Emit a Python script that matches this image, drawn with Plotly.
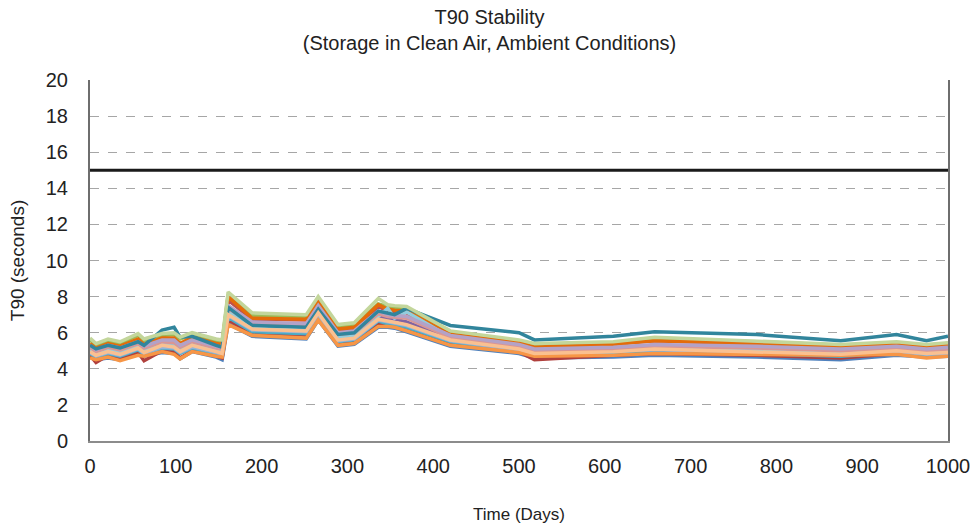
import plotly.graph_objects as go

days = [0, 7, 21, 35, 56, 63, 84, 98, 105, 119, 147, 154, 161, 189, 252, 266, 289, 308,
        336, 347, 355, 369, 420, 500, 518, 610, 658, 777, 875, 940, 975, 1000]

blue = [4.65,4.5,4.6,4.5,4.8,4.7,4.9,4.85,4.55,4.95,4.65,4.5,6.5,5.8,5.65,6.7,5.25,5.35,6.3,6.3,6.25,6.05,5.25,4.85,4.6,4.65,4.75,4.65,4.5,4.75,4.65,4.7]
dark_red = [4.75,4.35,4.75,4.55,4.9,4.45,5.0,4.95,4.6,5.0,4.7,4.6,6.7,5.95,5.8,6.85,5.4,5.5,6.5,6.45,6.4,6.25,5.4,4.95,4.5,4.75,4.85,4.75,4.6,4.85,4.7,4.75]
red = [5.2,4.9,5.15,5.0,5.4,5.1,5.5,5.5,5.2,5.5,5.2,5.1,7.8,6.75,6.7,7.5,6.1,6.2,7.45,7.2,7.15,7.1,5.9,5.5,5.35,5.4,5.55,5.4,5.25,5.4,5.3,5.4]
green = [5.6,5.3,5.55,5.4,5.85,5.55,5.85,5.9,5.65,5.9,5.55,5.5,8.1,6.95,6.9,7.85,6.35,6.45,7.6,7.45,7.4,7.35,6.0,5.55,5.35,5.45,5.65,5.5,5.3,5.45,5.3,5.4]
purple = [5.0,4.8,5.0,4.85,5.2,4.95,5.3,5.3,5.0,5.3,5.0,4.9,7.1,6.3,6.2,7.2,5.7,5.8,6.85,6.8,6.75,6.6,5.65,5.15,4.9,5.0,5.15,5.05,4.9,5.05,4.9,5.0]
aqua = [4.85,4.65,4.85,4.7,5.05,4.8,5.15,5.1,4.85,5.15,4.85,4.75,6.85,6.05,5.95,6.95,5.5,5.6,6.65,6.5,6.45,6.3,5.5,5.0,4.75,4.9,5.0,4.85,4.7,4.9,4.75,4.8]
orange = [4.6,4.5,4.65,4.45,4.75,4.7,4.95,4.8,4.55,4.95,4.7,4.65,6.45,5.85,5.7,6.7,5.3,5.4,6.35,6.35,6.3,6.1,5.3,4.9,4.7,4.75,4.85,4.8,4.75,4.8,4.6,4.7]
dark_orange = [5.4,5.15,5.4,5.25,5.65,5.35,5.7,5.7,5.4,5.75,5.4,5.35,8.0,6.8,6.75,7.7,6.2,6.3,7.55,7.3,7.25,7.2,5.9,5.45,5.2,5.35,5.55,5.4,5.2,5.35,5.2,5.3]
steel_blue = [4.9,4.7,4.9,4.75,5.1,4.85,5.2,5.15,4.9,5.2,4.9,4.8,6.95,6.15,6.05,7.0,5.55,5.65,6.7,6.6,6.55,6.4,5.55,5.05,4.8,4.95,5.05,4.9,4.75,4.95,4.8,4.85]
light_blue = [5.05,4.85,5.05,4.9,5.3,5.0,5.4,5.35,5.05,5.4,5.05,4.95,7.2,6.35,6.25,7.25,5.75,5.85,6.9,7.35,6.8,7.15,5.75,5.2,4.95,5.05,5.2,5.05,4.9,5.1,4.95,5.0]
pink = [5.2,4.95,5.2,5.05,5.4,5.15,5.5,5.45,5.2,5.5,5.15,5.1,7.35,6.5,6.4,7.4,5.9,6.0,7.05,6.9,6.85,6.8,5.75,5.25,5.0,5.1,5.25,5.15,5.0,5.15,5.0,5.1]
lavender = [5.3,5.05,5.3,5.15,5.5,5.25,5.6,5.6,5.3,5.6,5.25,5.2,7.5,6.6,6.5,7.5,6.0,6.1,7.2,7.0,6.95,6.9,5.85,5.35,5.1,5.2,5.35,5.25,5.1,5.25,5.1,5.2]
peach = [4.95,4.75,4.95,4.8,5.15,4.9,5.3,5.2,4.95,5.3,4.95,4.85,7.0,6.2,6.1,7.1,5.6,5.7,6.75,6.65,6.6,6.45,5.6,5.1,4.85,4.95,5.1,4.95,4.8,5.0,4.85,4.9]
teal = [5.3,5.1,5.3,5.15,5.5,5.3,6.15,6.3,5.75,5.8,5.3,5.2,7.4,6.4,6.3,7.3,5.9,6.0,7.2,7.1,7.0,7.35,6.4,6.0,5.6,5.8,6.05,5.9,5.55,5.9,5.55,5.8]
light_green = [5.7,5.4,5.65,5.5,5.95,5.65,5.95,6.0,5.75,6.0,5.65,5.6,8.25,7.1,7.0,8.0,6.45,6.55,7.9,7.55,7.5,7.45,6.1,5.6,5.4,5.5,5.75,5.55,5.35,5.5,5.35,5.45]

limit_days = [0, 1000]
limit_value = [15, 15]

series = [
    ("Sensor 1", blue, "#4F81BD"),
    ("Sensor 2", dark_red, "#B0403D"),
    ("Sensor 3", red, "#C0504D"),
    ("Sensor 4", green, "#9BBB59"),
    ("Sensor 5", purple, "#8064A2"),
    ("Sensor 6", aqua, "#4BACC6"),
    ("Sensor 7", steel_blue, "#95B3D7"),
    ("Sensor 8", dark_orange, "#E46C0A"),
    ("Sensor 9", light_blue, "#93CDDD"),
    ("Sensor 10", pink, "#D99694"),
    ("Sensor 11", lavender, "#B3A2C7"),
    ("Sensor 12", teal, "#31859C"),
    ("Sensor 13", orange, "#F79646"),
    ("Sensor 14", peach, "#FAC090"),
    ("Sensor 15", light_green, "#C3D69B"),
]

fig = go.Figure()
for name, vals, col in series:
    fig.add_trace(go.Scatter(x=days, y=vals, mode="lines", name=name,
                             line=dict(color=col, width=3.5)))
fig.add_trace(go.Scatter(x=limit_days, y=limit_value, mode="lines", name="Limit",
                         line=dict(color="#1a1a1a", width=3)))

fig.update_layout(
    width=979, height=529,
    margin=dict(l=90, r=31, t=80, b=88, autoexpand=False),
    paper_bgcolor="white", plot_bgcolor="white",
    showlegend=False,
    font=dict(family="Liberation Sans, Arial, sans-serif", color="#222"),
    title=dict(text="T90 Stability<br>(Storage in Clean Air, Ambient Conditions)",
               x=0.5, xref="container", xanchor="center",
               y=0.955, yref="container", yanchor="top",
               font=dict(size=20, color="#222")),
)
fig.update_xaxes(range=[0, 1000], tickvals=list(range(0, 1001, 100)),
                 showgrid=False, zeroline=False,
                 showline=True, linecolor="#8c8c8c", linewidth=2,
                 tickfont=dict(size=20, color="#222"), ticks="", ticklabelstandoff=6,
                 title=dict(text="Time (Days)", font=dict(size=17, color="#222"), standoff=32))
fig.update_yaxes(range=[0, 20], tickvals=list(range(0, 21, 2)),
                 showgrid=True, gridcolor="#a6a6a6", griddash="dash", gridwidth=1,
                 zeroline=False,
                 showline=True, linecolor="#6e6e6e", linewidth=2, mirror=True,
                 tickfont=dict(size=20, color="#222"), ticks="", ticklabelstandoff=16,
                 title=dict(text="T90 (seconds)", font=dict(size=19, color="#222"), standoff=16))

fig.write_html("out.html", config={"displayModeBar": False},
               post_script="document.body.style.margin='0';document.body.style.overflow='hidden';")
